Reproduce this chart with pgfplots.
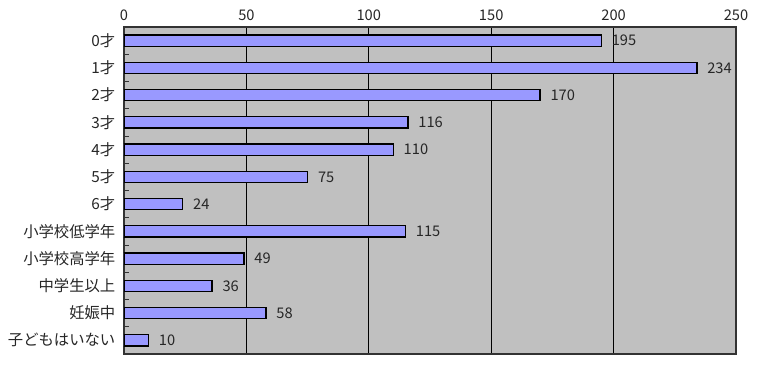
\documentclass[border=0pt]{standalone}
\usepackage{pgfplots}
\pgfplotsset{compat=1.18}
\usepackage{fontspec}
\setmainfont{Noto Sans CJK JP}
\usetikzlibrary{calc}
\definecolor{plotbg}{HTML}{C0C0C0}
\definecolor{barfill}{HTML}{9999FF}
\begin{document}
\begin{tikzpicture}
\begin{axis}[
  name=ax,
  scale only axis,
  width=459pt, height=245.25pt,
  xbar, bar width=8.5pt,
  xmin=0, xmax=250,
  ymin=-0.5, ymax=11.5,
  y dir=reverse,
  axis background/.style={fill=plotbg},
  axis line style={draw=black!80, line width=0.8pt},
  xtick={0,50,100,150,200,250},
  xticklabel pos=top,
  ytick pos=left,
  major x tick style={draw=none},
  xmajorgrids, grid style={draw=black, line width=0.6pt},
  ytick={0,...,11},
  yticklabels={0才,1才,2才,3才,4才,5才,6才,小学校低学年,小学校高学年,中学生以上,妊娠中,子どもはいない},
  major y tick style={draw=none},
  minor ytick={0.5,1.5,...,10.5},
  minor tick length=3.5pt,
  minor y tick style={draw=black!80, line width=0.6pt},
  tick align=inside,
  y tick label style={font=\fontsize{11.5}{13}\selectfont, xshift=-3pt, text=black!85},
  x tick label style={font=\fontsize{11}{13}\selectfont, yshift=1pt, text=black!85},
  /pgf/number format/assume math mode=true,
  nodes near coords,
  nodes near coords style={font=\fontsize{11}{13}\selectfont, anchor=west, xshift=4pt, text=black!85},
]
\addplot[fill=barfill, draw=black, line width=1pt] coordinates {
(195,0) (234,1) (170,2) (116,3) (110,4) (75,5) (24,6) (115,7) (49,8) (36,9) (58,10) (10,11)
};
\end{axis}
\useasboundingbox ($(ax.south west)+(-93pt,-14.25pt)$) rectangle ($(ax.north east)+(24pt,20.25pt)$);
\end{tikzpicture}
\end{document}
